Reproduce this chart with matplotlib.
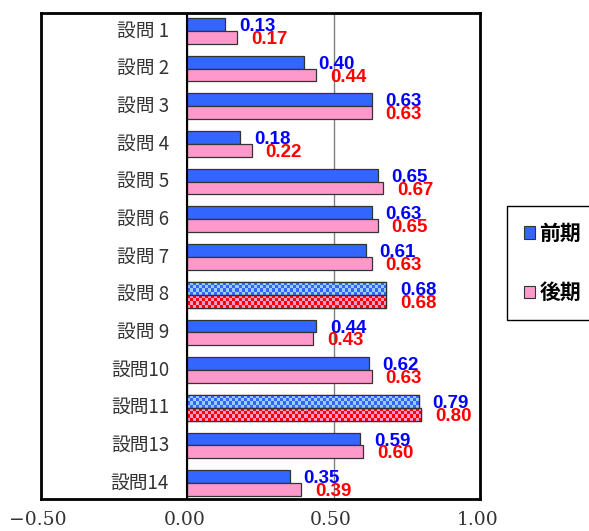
import numpy as np
import matplotlib
matplotlib.use("Agg")
import matplotlib.pyplot as plt
from matplotlib.colors import ListedColormap
from matplotlib.patches import Patch
from matplotlib.transforms import ScaledTranslation

# data
questions = ["設問 1", "設問 2", "設問 3", "設問 4", "設問 5", "設問 6", "設問 7",
             "設問 8", "設問 9", "設問10", "設問11", "設問13", "設問14"]
zenki = [0.13, 0.40, 0.63, 0.18, 0.65, 0.63, 0.61, 0.68, 0.44, 0.62, 0.79, 0.59, 0.35]
kouki = [0.17, 0.44, 0.63, 0.22, 0.67, 0.65, 0.63, 0.68, 0.43, 0.63, 0.80, 0.60, 0.39]
highlighted = ["設問 8", "設問11"]
series_names = ["前期", "後期"]
x_ticks = [-0.5, 0.0, 0.5, 1.0]
x_tick_labels = ["−0.50", "0.00", "0.50", "1.00"]

BLUE = "#3366ff"
PINK = "#ff99cc"
RED = "#ff0000"
LIGHT_BLUE = "#99ccff"
EDGE = "#333333"

fig = plt.figure(figsize=(5.89, 5.31), dpi=100)
ax = fig.add_axes([0.0691, 0.0603, 0.7459, 0.9157])

y = np.arange(len(questions))
h = 0.34
bars_a = ax.barh(y - h / 2, zenki, height=h, color=BLUE, edgecolor=EDGE, lw=0.9, zorder=3)
bars_b = ax.barh(y + h / 2, kouki, height=h, color=PINK, edgecolor=EDGE, lw=0.9, zorder=3)


def set_limits():
    ax.set_xlim(-0.5, 1.0)
    ax.set_ylim(len(questions) - 0.58, -0.48)


set_limits()


def checker(bar, base, light, cell=3.0):
    x0, y0 = bar.get_x(), bar.get_y()
    w, hh = bar.get_width(), bar.get_height()
    (px0, py0), (px1, py1) = ax.transData.transform([(x0, y0), (x0 + w, y0 + hh)])
    nx = max(1, int(round(abs(px1 - px0) / cell)))
    ny = max(1, int(round(abs(py1 - py0) / cell)))
    grid = np.add.outer(np.arange(ny), np.arange(nx)) % 2
    ax.imshow(grid, cmap=ListedColormap([base, light]), extent=(x0, x0 + w, y0 + hh, y0),
              aspect="auto", interpolation="nearest", clip_path=bar, zorder=3.5)
    ax.add_patch(plt.Rectangle((x0, y0), w, hh, fill=False, edgecolor=EDGE, lw=0.9, zorder=4))


for i, q in enumerate(questions):
    if q in highlighted:
        checker(bars_a[i], BLUE, LIGHT_BLUE)
        checker(bars_b[i], RED, PINK)

set_limits()

# value labels
lab_font = dict(family=["Liberation Sans", "DejaVu Sans"], fontsize=13.5, fontweight="bold")
for i in range(len(questions)):
    ax.annotate(f"{zenki[i]:.2f}", xy=(zenki[i], y[i] - h / 2), xytext=(10, -1.5),
                textcoords="offset points", ha="left", va="center", color="#0000ff",
                zorder=6, **lab_font)
    ax.annotate(f"{kouki[i]:.2f}", xy=(kouki[i], y[i] + h / 2), xytext=(10, -1.5),
                textcoords="offset points", ha="left", va="center", color=RED,
                zorder=6, **lab_font)
    # category labels sit inside the plot, left of zero
    ax.annotate(questions[i], xy=(0, y[i]), xytext=(-13, 0), textcoords="offset points",
                ha="right", va="center", color="#333333", fontsize=13.5,
                family=["Noto Sans CJK JP", "DejaVu Sans"])

ax.axvline(0, color="black", lw=1.5, zorder=5)
ax.set_xticks(x_ticks)
ax.set_xticklabels(x_tick_labels, family="DejaVu Serif", fontsize=13.5, color="#333333")
ax.tick_params(axis="x", length=0, pad=9)
for t in ax.get_xticklabels():
    t.set_transform(t.get_transform() + ScaledTranslation(-2 / 72, 0, fig.dpi_scale_trans))
ax.set_yticks([])
ax.xaxis.grid(True, color="#808080", lw=1)
ax.set_axisbelow(True)
for s in ax.spines.values():
    s.set_linewidth(2)
    s.set_color("black")
    s.set_zorder(6)

handles = [Patch(facecolor=BLUE, edgecolor=EDGE, lw=0.8),
           Patch(facecolor=PINK, edgecolor=EDGE, lw=0.8)]
leg = fig.legend(handles, series_names, loc="upper left", bbox_to_anchor=(0.861, 0.612),
                 bbox_transform=fig.transFigure, borderaxespad=0, fancybox=False,
                 frameon=True, edgecolor="black", framealpha=1,
                 borderpad=0.8, labelspacing=1.85, handlelength=0.55, handleheight=0.55,
                 handletextpad=0.2,
                 prop=dict(family=["Noto Sans CJK JP", "DejaVu Sans"], size=15, weight="bold"))
leg.get_frame().set_linewidth(1)

fig.savefig("out.png", dpi=100)
